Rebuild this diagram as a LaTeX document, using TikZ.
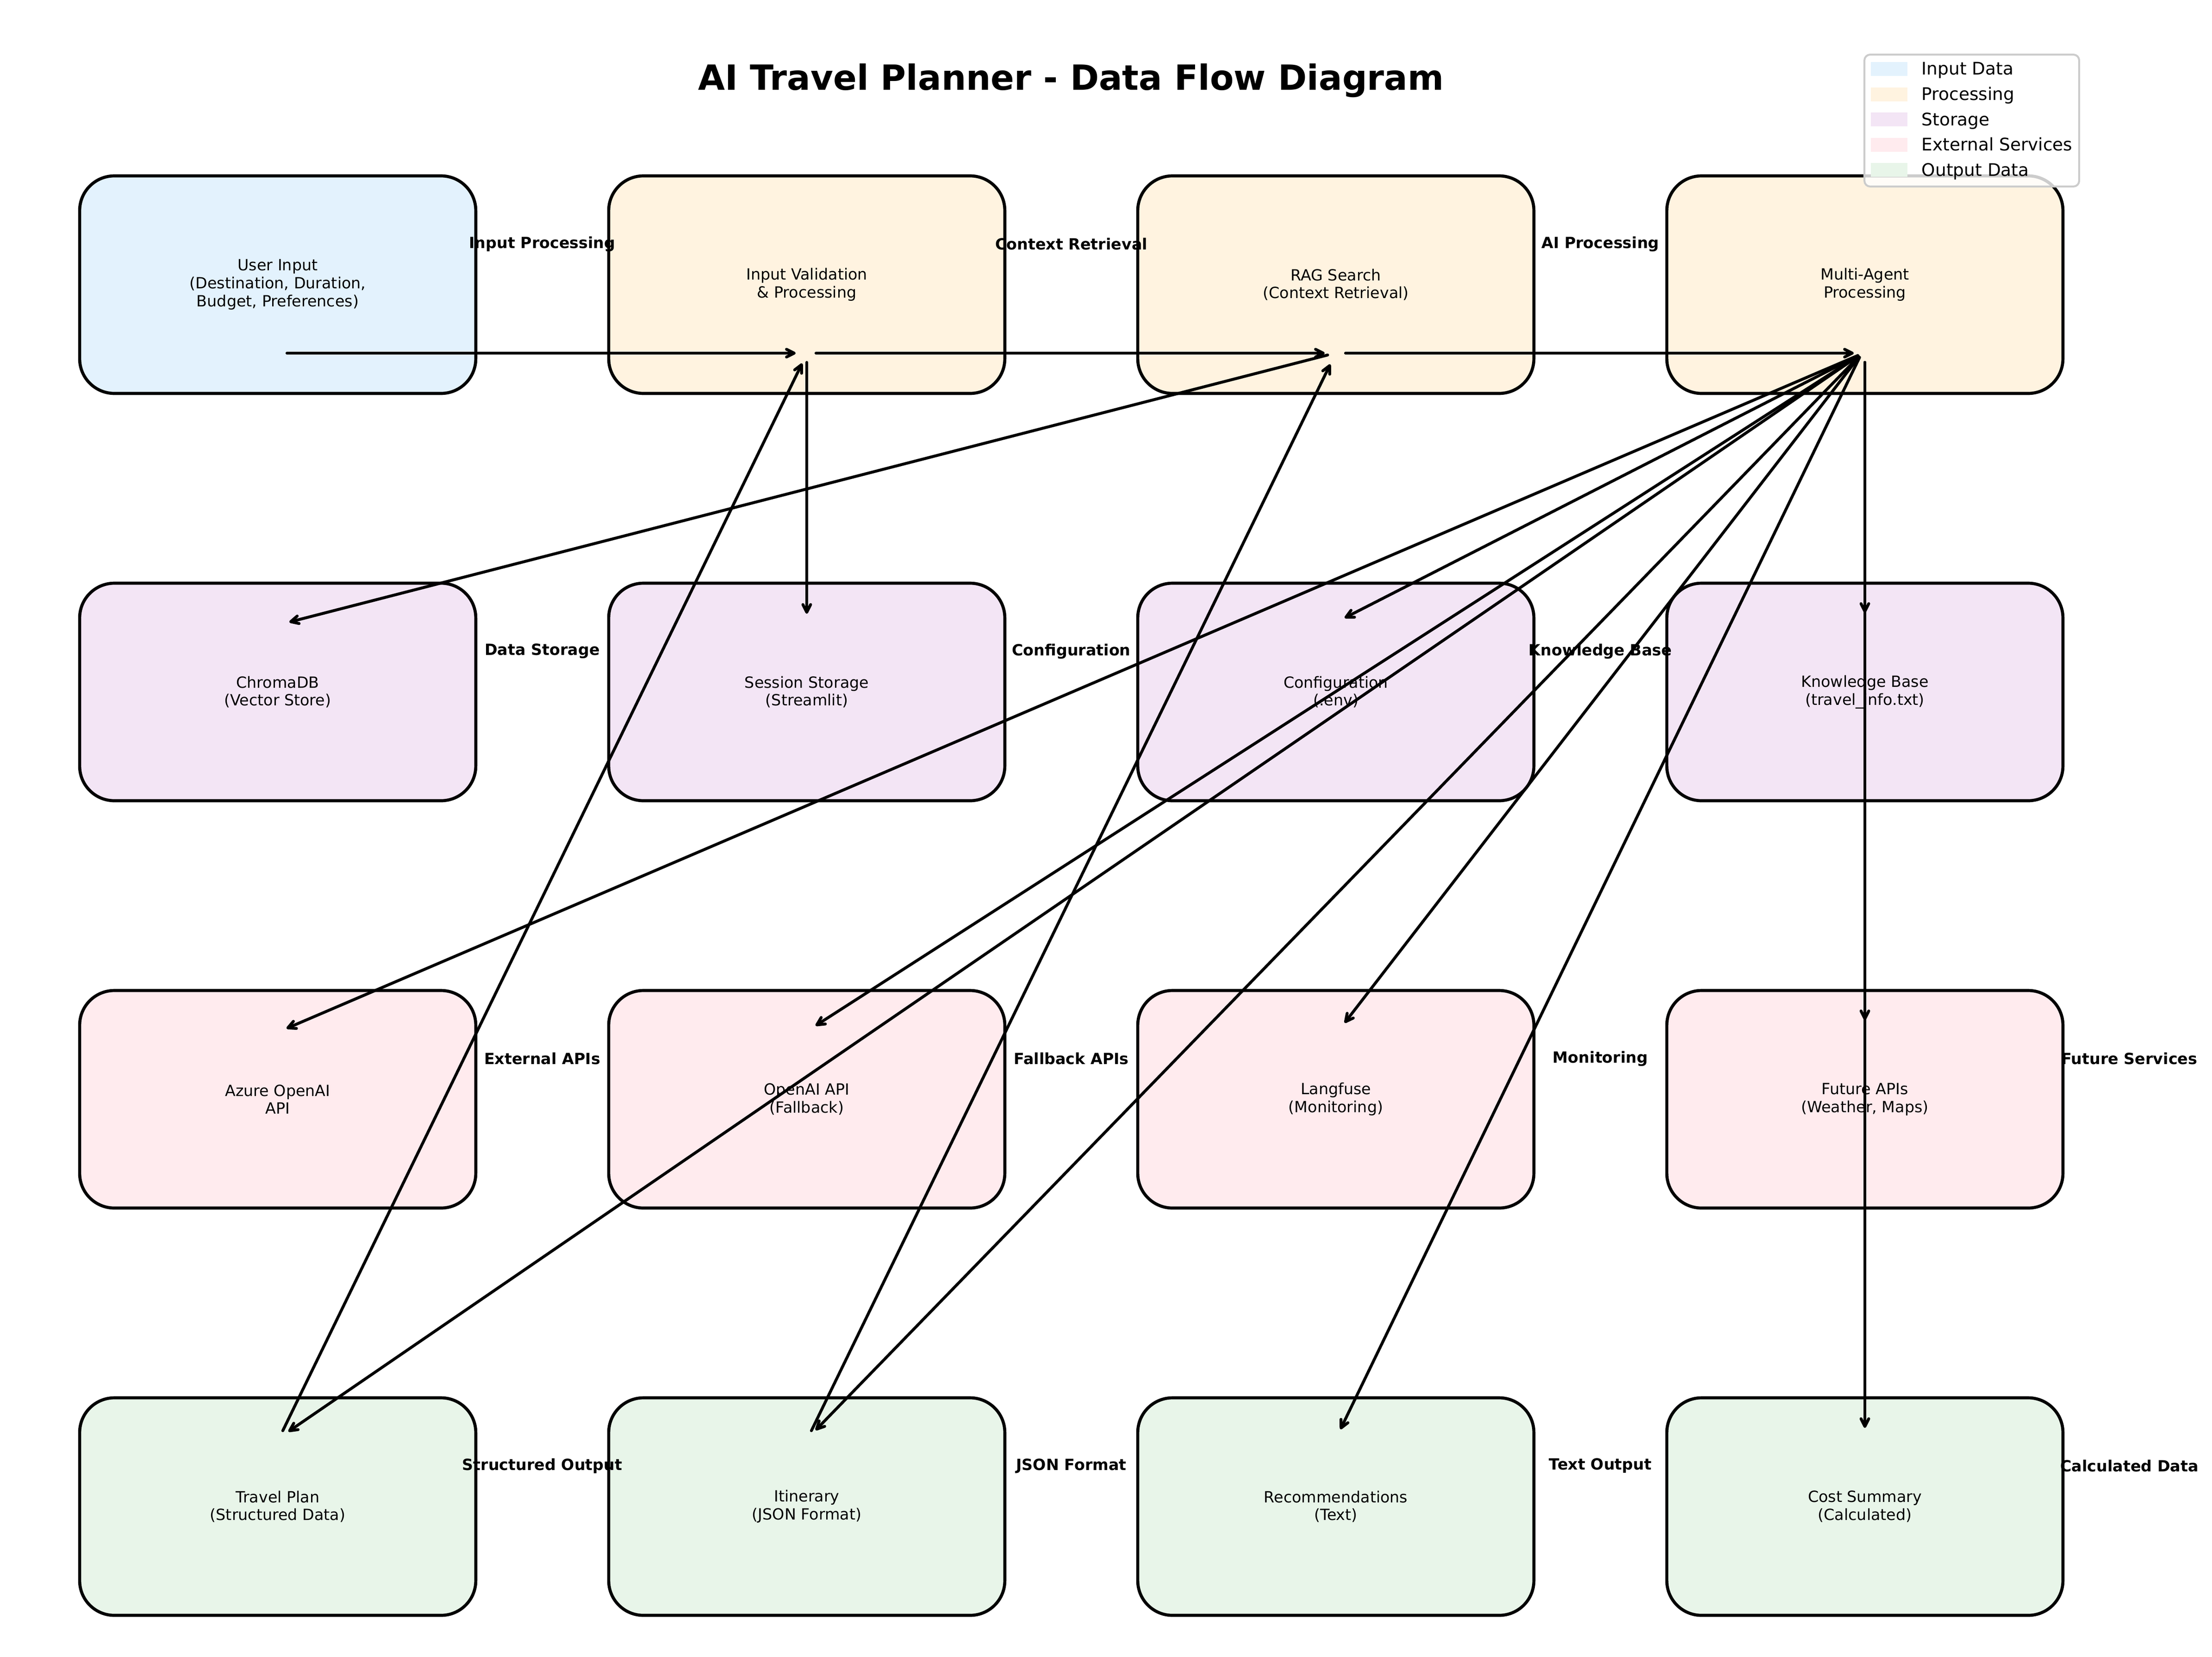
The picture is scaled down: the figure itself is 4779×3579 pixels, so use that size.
\documentclass[tikz,border=0pt]{standalone}
\usepackage{fontspec}
\setmainfont{DejaVu Sans}
\usetikzlibrary{arrows.meta}
\definecolor{cin}{HTML}{E3F2FD}
\definecolor{cproc}{HTML}{FFF3E0}
\definecolor{cstore}{HTML}{F3E5F5}
\definecolor{cext}{HTML}{FFEBEE}
\definecolor{cout}{HTML}{E8F5E9}
\definecolor{legedge}{HTML}{CCCCCC}
\begin{document}
\begin{tikzpicture}[x=0.24pt,y=-0.24pt,
  box/.style={draw=black, line width=1.6pt, rounded corners=18pt,
    minimum width=205.4pt, minimum height=112.8pt, inner sep=0pt,
    align=center, font=\fontsize{8}{9.3}\selectfont},
  elabel/.style={inner sep=0pt, font=\fontsize{8}{9.6}\selectfont\bfseries},
  flow/.style={line width=1.5pt, line cap=round,
    -{Straight Barb[length=4pt,width=4pt,round]}},
  fanflow/.style={flow, shorten <=1.9pt},
  legpatch/.style={inner sep=0pt, minimum width=19pt, minimum height=7.2pt},
  legtext/.style={inner sep=0pt, anchor=base west, font=\fontsize{9}{10.8}\selectfont}
]
\useasboundingbox (0,0) rectangle (4779,3579);

% title
\node[font=\fontsize{18}{21.6}\selectfont\bfseries] (title) at (2314,174) {AI Travel Planner - Data Flow Diagram};

% boxes
\node[box, fill=cin]    (ui)     at (600,615)  {User Input\\(Destination, Duration,\\Budget, Preferences)};
\node[box, fill=cproc]  (iv)     at (1743,615) {Input Validation\\\& Processing};
\node[box, fill=cproc]  (rag)    at (2886,615) {RAG Search\\(Context Retrieval)};
\node[box, fill=cproc]  (ma)     at (4029,615) {Multi-Agent\\Processing};
\node[box, fill=cstore] (chroma) at (600,1495)  {ChromaDB\\(Vector Store)};
\node[box, fill=cstore] (sess)   at (1743,1495) {Session Storage\\(Streamlit)};
\node[box, fill=cstore] (conf)   at (2886,1495) {Configuration\\(.env)};
\node[box, fill=cstore] (kb)     at (4029,1495) {Knowledge Base\\(travel\_info.txt)};
\node[box, fill=cext]   (azure)  at (600,2375)  {Azure OpenAI\\API};
\node[box, fill=cext]   (oai)    at (1743,2375) {OpenAI API\\(Fallback)};
\node[box, fill=cext]   (lf)     at (2886,2375) {Langfuse\\(Monitoring)};
\node[box, fill=cext]   (fut)    at (4029,2375) {Future APIs\\(Weather, Maps)};
\node[box, fill=cout]   (tp)     at (600,3255)  {Travel Plan\\(Structured Data)};
\node[box, fill=cout]   (itin)   at (1743,3255) {Itinerary\\(JSON Format)};
\node[box, fill=cout]   (rec)    at (2886,3255) {Recommendations\\(Text)};
\node[box, fill=cout]   (cost)   at (4029,3255) {Cost Summary\\(Calculated)};

% connector anchor points
\coordinate (ui-s)   at (620,763);
\coordinate (iv-s)   at (1763,763);
\coordinate (iv-d)   at (1743,783);
\coordinate (rag-s)  at (2907,763);
\coordinate (rag-o)  at (2876,765);
\coordinate (ma-o)   at (4021,765);
\coordinate (ma-d)   at (4029,783);
\coordinate (tp-s)   at (611,3091);
\coordinate (itin-s) at (1753,3091);

\coordinate (iv-t)     at (1719,763);
\coordinate (rag-t)    at (2862,763);
\coordinate (ma-t)     at (4005,763);
\coordinate (iv-u)     at (1733,785);
\coordinate (rag-u)    at (2874,787);
\coordinate (chroma-t) at (625,1344);
\coordinate (sess-t)   at (1743,1326);
\coordinate (conf-t)   at (2905,1335);
\coordinate (kb-t)     at (4029,1324);
\coordinate (azure-t)  at (619,2222);
\coordinate (oai-t)    at (1762,2216);
\coordinate (lf-t)     at (2905,2210);
\coordinate (fut-t)    at (4029,2204);
\coordinate (tp-t)     at (623,3093);
\coordinate (itin-t)   at (1762,3090);
\coordinate (rec-t)    at (2896,3088);
\coordinate (cost-t)   at (4029,3085);

% connectors
\draw[flow] (ui-s) -- (iv-t);
\draw[flow] (iv-s) -- (rag-t);
\draw[flow] (rag-s) -- (ma-t);
\draw[fanflow] (rag-o) -- (chroma-t);
\draw[flow] (iv-d) -- (sess-t);
\draw[fanflow] (ma-o) -- (conf-t);
\draw[flow] (ma-d) -- (kb-t);
\draw[fanflow] (ma-o) -- (azure-t);
\draw[fanflow] (ma-o) -- (oai-t);
\draw[fanflow] (ma-o) -- (lf-t);
\draw[flow] (ma-d) -- (fut-t);
\draw[fanflow] (ma-o) -- (tp-t);
\draw[fanflow] (ma-o) -- (itin-t);
\draw[fanflow] (ma-o) -- (rec-t);
\draw[flow] (ma-d) -- (cost-t);
\draw[flow] (tp-s) -- (iv-u);
\draw[flow] (itin-s) -- (rag-u);

% edge labels
\node[elabel] (l11) at (1171.5,527) {Input Processing};
\node[elabel] (l12) at (2314.5,527) {Context Retrieval};
\node[elabel] (l13) at (3457.5,527) {AI Processing};
\node[elabel] (l21) at (1171.5,1407) {Data Storage};
\node[elabel] (l22) at (2314.5,1407) {Configuration};
\node[elabel] (l23) at (3457.5,1407) {Knowledge Base};
\node[elabel] (l31) at (1171.5,2287) {External APIs};
\node[elabel] (l32) at (2314.5,2287) {Fallback APIs};
\node[elabel] (l33) at (3457.5,2287) {Monitoring};
\node[elabel] (l34) at (4600.5,2287) {Future Services};
\node[elabel] (l41) at (1171.5,3167) {Structured Output};
\node[elabel] (l42) at (2314.5,3167) {JSON Format};
\node[elabel] (l43) at (3457.5,3167) {Text Output};
\node[elabel] (l44) at (4600.5,3167) {Calculated Data};

% legend
\draw[draw=legedge, line width=1pt, fill=white, fill opacity=0.8, rounded corners=3pt]
  (4028,118) rectangle (4492,403);
\node[legpatch, fill=cin]    (lp1) at (4081.5,149) {};
\node[legpatch, fill=cproc]  (lp2) at (4081.5,203.6) {};
\node[legpatch, fill=cstore] (lp3) at (4081.5,258.2) {};
\node[legpatch, fill=cext]   (lp4) at (4081.5,312.8) {};
\node[legpatch, fill=cout]   (lp5) at (4081.5,367.4) {};
\node[legtext] (lt1) at (4151,162)   {Input Data};
\node[legtext] (lt2) at (4151,216.6) {Processing};
\node[legtext] (lt3) at (4151,271.2) {Storage};
\node[legtext] (lt4) at (4151,325.8) {External Services};
\node[legtext] (lt5) at (4151,380.4) {Output Data};
\end{tikzpicture}
\end{document}
